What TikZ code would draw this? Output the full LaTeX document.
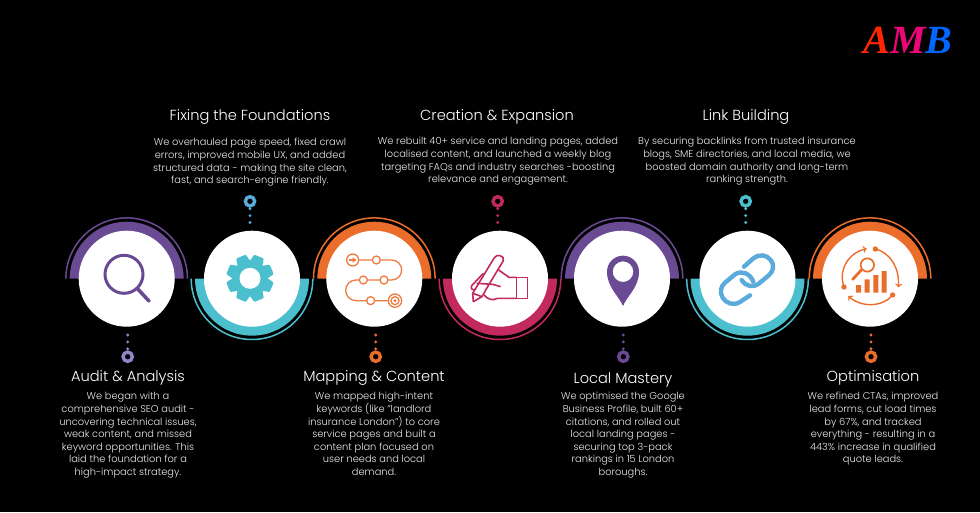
\documentclass[tikz,border=0pt]{standalone}
\usepackage{fontspec}
\setmainfont{Poppins Light}
\newfontfamily\logofont{Liberation Serif}
\definecolor{grape}{HTML}{6B4A94}
\definecolor{teal}{HTML}{4CBFCF}
\definecolor{tangerine}{HTML}{EB6D2C}
\definecolor{berry}{HTML}{C1295F}
\definecolor{skyline}{HTML}{5AABDC}
\definecolor{lilac}{HTML}{8F86C6}
\definecolor{bodytext}{HTML}{EDEDED}
\tikzset{
  disc/.style={circle,fill=white,minimum size=96pt,inner sep=0pt},
  ringmark/.style={circle,draw=#1,line width=3.4pt,minimum size=9.3pt,inner sep=0pt},
  dots/.style={#1,line width=3.2pt,line cap=round,dash pattern=on 0pt off 6.9pt},
  heading/.style={text=white,font=\fontsize{14.6}{17}\selectfont,align=center},
  blurb/.style={text=bodytext,font=\fontsize{9.85}{12.6}\selectfont,align=center,anchor=north},
}
\begin{document}
\begin{tikzpicture}[x=1pt,y=-1pt]
        \fill[black] (0,0) rectangle (980,512);
        \useasboundingbox (0,0) rectangle (980,512);

        % half bands, thin arc outside
        \foreach \cx/\col/\st/\en in {126.7/grape/180/360,374.3/tangerine/180/360,622/grape/180/360,870/tangerine/180/360,
                                      252/teal/180/0,500/berry/180/0,747.5/teal/180/0}{
          \fill[\col] (\cx-57,278.7) arc[start angle=\st,end angle=\en,radius=57] -- cycle;
          \draw[\col,line width=1.5pt] (\cx-60.8,278.7) arc[start angle=\st,end angle=\en,radius=60.8];
        }

        \node[disc] (audit) at (126.7,278.7) {};
        \node[disc] (fixing) at (252,278.7) {};
        \node[disc] (mapping) at (374.3,278.7) {};
        \node[disc] (creation) at (500,278.7) {};
        \node[disc] (local) at (622,278.7) {};
        \node[disc] (link) at (747.5,278.7) {};
        \node[disc] (optim) at (870,278.7) {};

        % rings and their dots
        \node[ringmark=lilac] (ringa) at (127.7,356.7) {};
        \node[ringmark=skyline] (ringb) at (250,201.3) {};
        \node[ringmark=tangerine] (ringc) at (375.7,356.7) {};
        \node[ringmark=berry] (ringd) at (497.7,201.3) {};
        \node[ringmark=grape] (ringe) at (623.3,356.7) {};
        \node[ringmark=teal] (ringf) at (745.7,201.3) {};
        \node[ringmark=tangerine] (ringg) at (871,356.7) {};
        \coordinate (enda) at (127.7,335);
        \coordinate (endb) at (250,222.5);
        \coordinate (endc) at (375.7,335);
        \coordinate (endd) at (497.7,222.5);
        \coordinate (ende) at (623.3,335);
        \coordinate (endf) at (745.7,222.5);
        \coordinate (endg) at (871,335);
        \draw[dots=lilac] (enda) -- (ringa);
        \draw[dots=skyline] (endb) -- (ringb);
        \draw[dots=tangerine] (endc) -- (ringc);
        \draw[dots=berry] (endd) -- (ringd);
        \draw[dots=grape] (ende) -- (ringe);
        \draw[dots=teal] (endf) -- (ringf);
        \draw[dots=tangerine] (endg) -- (ringg);

        % magnifier
        \draw[grape,line width=3pt] (124,274.3) circle (19);
        \draw[grape,line width=3.6pt,line cap=round] (137.3,288.5) -- (149,301);

        % gear
        \begin{scope}[shift={(250,278.3)}]
          \fill[teal] (0,0) circle (18);
          \foreach \a in {0,45,...,315}
            \fill[teal,rotate=\a+22.5,rounded corners=1pt] (15,-7) -- (23.5,-5.2) -- (23.5,5.2) -- (15,7) -- cycle;
          \fill[white] (0,0) circle (10.5);
        \end{scope}

        % road map
        \begin{scope}[shift={(300,190)},scale=1/3,tangerine!90!white,line width=1.3pt]
          \draw (176,210) -- (217,210) (241,210) -- (275,210) arc[start angle=270,end angle=450,radius=30] -- (264,270)
                (240,270) -- (202,270) (178,270) -- (168,270) arc[start angle=270,end angle=90,radius=31] -- (200,332)
                (224,332) -- (265,332);
          \draw (158,210) circle (18) (229,210) circle (12) (252,270) circle (12) (190,270) circle (12)
                (212,332) circle (12) (285,332) circle (20) (285,332) circle (12);
          \fill (285,332) circle (5);
          \fill (148,207) rectangle (160,213);
          \fill (158,202) -- (170,210) -- (158,218) -- cycle;
        \end{scope}

        % writing hand
        \begin{scope}[shift={(460,245)},scale=1/3,berry,line width=1.6pt,line join=round]
          \draw (170,97) rectangle (203,160);
          \draw (116,75) -- (147,97) -- (170,97);
          \draw (170,160) -- (112,160) .. controls (100,167) and (85,165) .. (72,150);
          \draw (103,38) .. controls (110,25) and (135,32) .. (130,47) -- (80,130) -- (66,155) -- (40,170) -- (38,145) -- (103,38);
          \draw (38,145) -- (66,155);
          \draw (70,85) -- (35,122) .. controls (30,132) and (40,138) .. (48,132);
          \draw (50,115) -- (98,118) -- (122,125);
        \end{scope}

        % pin
        \begin{scope}[shift={(550,190)},scale=1/3]
          \fill[grape,even odd rule] (219,348) .. controls (207,318) and (171,292) .. (171,245)
             arc[start angle=180,end angle=360,radius=48] .. controls (267,292) and (231,318) .. (219,348) -- cycle
             (219,245) circle (31);
        \end{scope}

        % chain
        \begin{scope}[shift={(700,235)},scale=1/3,skyline,line width=4.4pt,line cap=round]
          \draw (132,95) -- (160,70) .. controls (175,57) and (200,58) .. (212,75) .. controls (225,92) and (220,110) .. (205,122)
                -- (175,147) .. controls (160,158) and (137,155) .. (125,135);
          \draw (150,181) -- (120,201) .. controls (100,213) and (78,205) .. (68,188) .. controls (58,170) and (62,155) .. (75,143)
                -- (105,118) .. controls (125,105) and (150,115) .. (160,140);
        \end{scope}

        % chart with arrows
        \begin{scope}[shift={(790,190)},scale=1/3,tangerine]
          \fill (198,285) rectangle (213,308) (224,268) rectangle (239,308) (250,255) rectangle (265,308) (275,243) rectangle (290,308);
          \draw[line width=1.7pt] (232,225) circle (20);
          \draw[line width=2.8pt,line cap=round] (214,240) -- (188,268);
          \fill (256,177) circle (8) (162,291) circle (8) (308,315) circle (8);
          \draw[line width=1.4pt,->] (256,177) .. controls (295,185) and (330,230) .. (325,292);
          \draw[line width=1.4pt,->] (308,315) .. controls (280,350) and (215,355) .. (175,318);
          \draw[line width=1.4pt,->] (162,291) .. controls (145,245) and (170,190) .. (230,176);
        \end{scope}

        % headings
        \node[heading] (heada) at (128,378) {Audit \& Analysis};
        \node[heading] (headb) at (250,117) {Fixing the Foundations};
        \node[heading] (headc) at (374,378) {Mapping \& Content};
        \node[heading] (headd) at (497,117) {Creation \& Expansion};
        \node[heading] (heade) at (623,380) {Local Mastery};
        \node[heading] (headf) at (746,117) {Link Building};
        \node[heading] (headg) at (873,378) {Optimisation};

        % body texts
        \node[blurb] (texta) at (128,389) {We began with a\\comprehensive SEO audit -\\uncovering technical issues,\\weak content, and missed\\keyword opportunities. This\\laid the foundation for a\\high-impact strategy.};
        \node[blurb] (textb) at (250,135) {We overhauled page speed, fixed crawl\\errors, improved mobile UX, and added\\structured data - making the site clean,\\fast, and search-engine friendly.};
        \node[blurb] (textc) at (374,389) {We mapped high-intent\\keywords (like "landlord\\insurance London") to core\\service pages and built a\\content plan focused on\\user needs and local\\demand.};
        \node[blurb] (textd) at (498,134) {We rebuilt 40+ service and landing pages, added\\localised content, and launched a weekly blog\\targeting FAQs and industry searches -boosting\\relevance and engagement.};
        \node[blurb] (texte) at (623,389) {We optimised the Google\\Business Profile, built 60+\\citations, and rolled out\\local landing pages -\\securing top 3-pack\\rankings in 15 London\\boroughs.};
        \node[blurb] (textf) at (747,134) {By securing backlinks from trusted insurance\\blogs, SME directories, and local media, we\\boosted domain authority and long-term\\ranking strength.};
        \node[blurb] (textg) at (873,389) {We refined CTAs, improved\\lead forms, cut load times\\by 67\%, and tracked\\everything - resulting in a\\443\% increase in qualified\\quote leads.};

        % logo
        \node[font=\fontsize{40}{40}\logofont\itshape\bfseries] (logo) at (908,40) {\textcolor{red!70!orange}{A}\textcolor{magenta!80!red}{M}\textcolor{blue!60!cyan}{B}};
\end{tikzpicture}
\end{document}
